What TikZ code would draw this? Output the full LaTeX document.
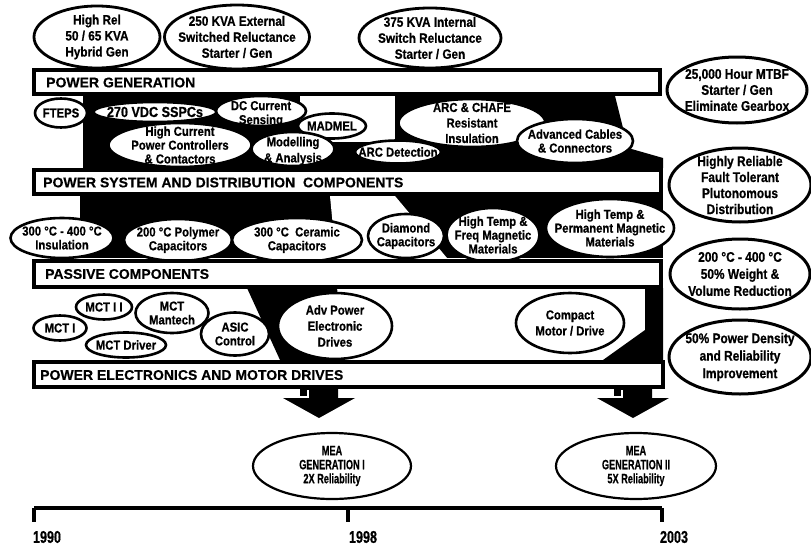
\documentclass[tikz,border=0pt]{standalone}
\usepackage{fontspec}
\setmainfont{Liberation Sans}[BoldFeatures={FakeBold=0.5}]
\newfontfamily\nfont{Liberation Sans}[FakeStretch=0.87, BoldFeatures={FakeBold=0.7}]
\newfontfamily\gfont{Liberation Sans}[FakeStretch=0.85, BoldFeatures={FakeBold=0.7}]
\newfontfamily\cfont{Liberation Sans}[FakeStretch=0.68, BoldFeatures={FakeBold=0.5}]
\newfontfamily\yfont{Liberation Sans}[FakeStretch=0.74, BoldFeatures={FakeBold=0.6}]
\usetikzlibrary{shapes.geometric}
\begin{document}
\begin{tikzpicture}[x=1pt,y=-1pt,
  ell/.style={ellipse, draw=black, fill=white, line width=2.6pt, inner sep=-120pt, align=center,
    font=\nfont\fontsize{13}{13.8}\selectfont\bfseries},
  sz/.style 2 args={minimum width=#1pt, minimum height=#2pt},
  topell/.style={ell, line width=2.8pt, font=\nfont\fontsize{13.5}{16}\selectfont\bfseries},
  goal/.style={ell, line width=3pt, font=\gfont\fontsize{14}{16}\selectfont\bfseries},
  mea/.style={ell, line width=2.2pt, font=\cfont\fontsize{13.5}{14}\selectfont\bfseries},
  band/.style={rectangle, draw=black, fill=white, line width=4pt, inner sep=0pt},
  bandtxt/.style={anchor=west, inner sep=0pt, font=\fontsize{14}{14}\selectfont\bfseries},
  lbl/.style={inner sep=0pt, align=center, font=\nfont\fontsize{13}{14}\selectfont\bfseries},
  yearlbl/.style={inner sep=0pt, font=\yfont\fontsize{17}{17}\selectfont\bfseries},
  bevel/.style={draw=white, line width=1.2pt},
  axis/.style={line width=4pt},
]
\useasboundingbox (0,0) rectangle (811,546);

% ---- black funnel background ----
\fill (83,96) -- (615,96) -- (628,148) -- (663,158) -- (663,168) -- (83,168) -- cycle;
\fill[white] (300,96) rectangle (395,142);
\fill (80,196) rectangle (663,258);
\fill[white] (330,196) -- (395,196) -- (447,258) -- (336,258) -- cycle;
\fill (247,288) -- (337,288) -- (345,360) -- (280,360) -- cycle;
\fill (645,288) -- (663,288) -- (663,360) -- (603,360) -- (645,330) -- cycle;

% ---- top row ----
\node[topell, sz={126}{62}] (hirel) at (97,37) {High Rel\\50 / 65 KVA\\Hybrid Gen};
\node[topell, sz={145}{64}] (ext) at (237,37) {250 KVA External\\Switched Reluctance\\Starter / Gen};
\node[topell, sz={142}{60}] (int) at (430,38) {375 KVA Internal\\Switch Reluctance\\Starter / Gen};

% ---- region 1 ----
\node[ell, sz={52}{29}] (fteps) at (61,113) {FTEPS};
\node[ell, sz={123}{20}, font=\nfont\fontsize{14.5}{15}\selectfont\bfseries] (sspc) at (155,112) {270 VDC SSPCs};
\node[ell, sz={90}{30}] (dcc) at (261,111) {};
\node[lbl] (dcct) at (261,114) {DC Current\\Sensing};
\node[ell, sz={68}{25}] (madmel) at (332,126) {MADMEL};
\node[ell, sz={143}{44}] (hicur) at (180,145) {High Current\\Power Controllers\\\& Contactors};
\node[ell, sz={83}{34}] (model) at (293,149) {};
\node[lbl, font=\nfont\fontsize{13}{16}\selectfont\bfseries] (modelt) at (293,151) {Modelling\\\& Analysis};
\node[ell, sz={147}{48}, font=\nfont\fontsize{13}{15.5}\selectfont\bfseries] (arcch) at (472,123) {ARC \& CHAFE\\Resistant\\Insulation};
\node[ell, sz={86}{23}] (arcdet) at (398,152) {ARC Detection};
\node[ell, sz={116}{44}] (cables) at (575,141) {Advanced Cables\\\& Connectors};

% ---- region 2 ----
\node[ell, sz={103}{40}] (ins) at (62,238) {300 °C - 400 °C\\Insulation};
\node[ell, sz={108}{42}] (poly) at (178,240) {200 °C Polymer\\Capacitors};
\node[ell, sz={130}{44}] (cer) at (297,240) {300 °C\ \ Ceramic\\Capacitors};
\node[ell, sz={76}{44}] (dia) at (406,236) {Diamond\\Capacitors};
\node[ell, sz={93}{54}] (hfreq) at (493,235) {High Temp \&\\Freq Magnetic\\Materials};
\node[ell, sz={128}{58}] (hperm) at (610,228) {High Temp \&\\Permanent Magnetic\\Materials};

% ---- region 3 ----
\node[ell, sz={53}{25}] (mct1) at (60,328) {MCT I};
\node[ell, sz={56}{25}] (mct2) at (104,307) {MCT I I};
\node[ell, sz={73}{40}] (mctm) at (172,313) {MCT\\Mantech};
\node[ell, sz={80}{25}] (mctd) at (126,345) {MCT Driver};
\node[ell, sz={68}{43}] (asic) at (235,334) {ASIC\\Control};
\node[ell, sz={114}{66}, font=\nfont\fontsize{13}{16}\selectfont\bfseries] (adv) at (335,326) {Adv Power\\Electronic\\Drives};
\node[ell, sz={108}{60}, font=\nfont\fontsize{13}{16}\selectfont\bfseries] (cmp) at (570,323) {Compact\\Motor / Drive};

% ---- bands ----
\node[band, minimum width=626pt, minimum height=24pt] (b1) at (347,82) {};
\node[bandtxt] (b1t) at (46,82.5) {POWER GENERATION};
\node[band, minimum width=627pt, minimum height=24pt] (b2) at (347.5,182) {};
\node[bandtxt] (b2t) at (43,182.5) {POWER SYSTEM AND DISTRIBUTION\ \ COMPONENTS};
\node[band, minimum width=627pt, minimum height=26pt] (b3) at (347.5,273.5) {};
\node[bandtxt] (b3t) at (45,274) {PASSIVE COMPONENTS};
\node[band, minimum width=629pt, minimum height=25pt] (b4) at (348.5,374.5) {};
\node[bandtxt] (b4t) at (40,375) {POWER ELECTRONICS AND MOTOR DRIVES};

% ---- goals ----
\node[goal, sz={140}{66}] (mtbf) at (737,90) {25,000 Hour MTBF\\Starter / Gen\\Eliminate Gearbox};
\node[goal, sz={142}{74}] (hrel) at (740,185) {Highly Reliable\\Fault Tolerant\\Plutonomous\\Distribution};
\node[goal, sz={140}{70}, font=\gfont\fontsize{14}{17}\selectfont\bfseries] (wv) at (740,274) {200 °C - 400 °C\\50\% Weight \&\\Volume Reduction};
\node[goal, sz={142}{74}, font=\gfont\fontsize{14}{17.5}\selectfont\bfseries] (pd) at (740,357) {50\% Power Density\\and Reliability\\Improvement};

% ---- MEA ----
\node[mea, sz={158}{66}] (mea1) at (332,466) {MEA\\GENERATION I\\2X Reliability};
\node[mea, sz={160}{66}] (mea2) at (636,466) {MEA\\GENERATION II\\5X Reliability};

% ---- block arrows (band -> MEA) ----
\fill (300,388) -- (338,388) -- (338,398) -- (355,398) -- (319,418) -- (283,398) -- (300,398) -- cycle;
\draw[bevel] (308,390) -- (308,397) -- (294,397);
\fill (614,388) -- (652,388) -- (652,398) -- (669,398) -- (633,418) -- (597,398) -- (614,398) -- cycle;
\draw[bevel] (622,390) -- (622,397) -- (608,397);

% ---- timeline ----
\coordinate (t90) at (34,508);
\coordinate (t98) at (348,508);
\coordinate (t03) at (662,508);
\draw[axis] (t90) -- (t03);
\draw[axis] (t90) -- ++(0,14);
\draw[axis] (t98) -- ++(0,14);
\draw[axis] (t03) -- ++(0,14);
\node[yearlbl] (y90) at (47,537) {1990};
\node[yearlbl] (y98) at (363,537) {1998};
\node[yearlbl] (y03) at (674,537) {2003};
\end{tikzpicture}
\end{document}
